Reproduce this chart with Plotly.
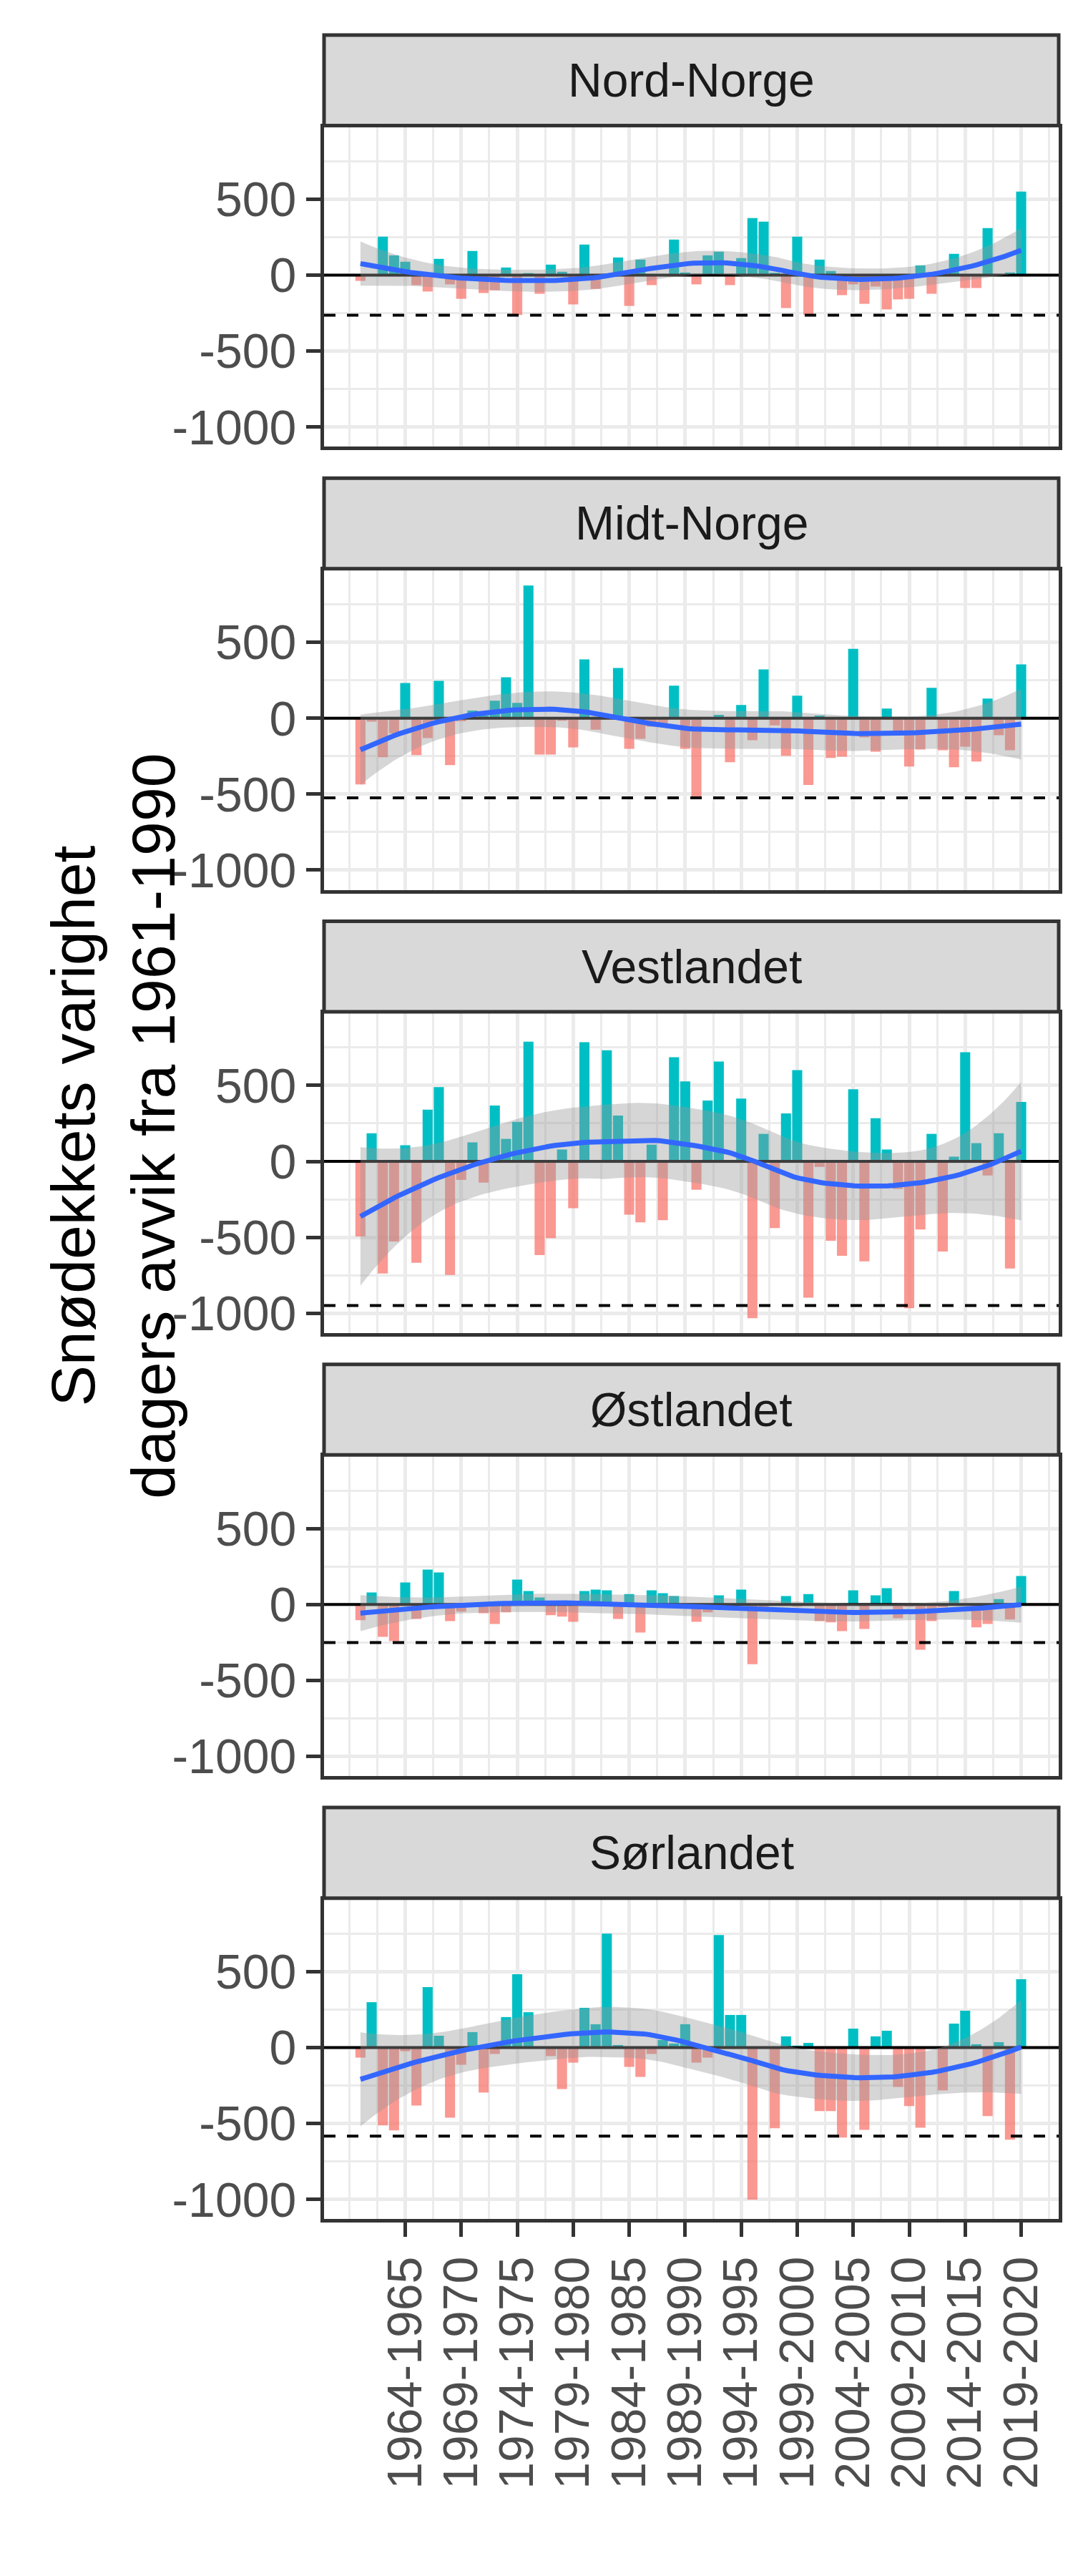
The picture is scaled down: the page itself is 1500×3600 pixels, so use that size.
import numpy as np
import plotly.graph_objects as go

# hydrological years 1960-1961 ... 2019-2020
seasons = [f"{y}-{y + 1}" for y in range(1960, 2020)]
tick_labels = [s for s in seasons if s.endswith(("5", "0")) and seasons.index(s) >= 4]
y_ticks = [-1000, -500, 0, 500]

regions = ["Nord-Norge", "Midt-Norge", "Vestlandet", "Østlandet", "Sørlandet"]

nord_norge = [-38, 0, 253, 130, 88, -66, -108, 107, -61, -156, 159, -118, -100, 50, -263, 13, -123, 69, 22, -193,
              201, -91, 5, 116, -203, 102, -66, 0, 234, 17, -61, 130, 154, -66, 112, 376, 352, 15, -217, 253,
              -263, 102, 27, -132, -61, -189, -75, -226, -160, -156, 64, -123, 0, 140, -85, -85, 310, 0, 17, 550]
midt_norge = [-436, -22, -257, -100, 232, -243, -131, 246, -309, -20, 50, 17, 115, 270, 101, 874, -239, -239, -16, -192,
              387, -75, 0, 331, -201, -136, -56, -37, 214, -201, -516, 0, 22, -290, 87, -145, 321, -47, -248, 148,
              -440, 17, -262, -253, 457, -126, -220, 64, -84, -318, -206, 200, -211, -323, -187, -285, 129, -112, -211, 354]
vestlandet = [-495, 185, -738, -528, 106, -668, 340, 489, -748, -122, 125, -140, 368, 148, 260, 788, -617, -505, 78, -308,
              784, 0, 732, 302, -351, -402, 110, -388, 686, 527, -187, 400, 657, 0, 414, -1033, 181, -439, 316, 601,
              -897, -37, -523, -622, 475, -659, 284, 78, -182, -967, -449, 181, -594, 31, 718, 120, -93, 185, -706, 391]
ostlandet = [-104, 79, -213, -241, 145, -95, 230, 211, -109, -47, 0, -57, -128, -52, 164, 88, 46, -71, -80, -114,
             88, 98, 93, -95, 69, -185, 93, 74, 55, 0, -114, -52, 60, -10, 98, -393, -17, 0, 55, -14,
             69, -109, -118, -175, 93, -161, 60, 107, -90, -14, -298, -109, -17, 88, 0, -151, -128, 36, -99, 188]
sorlandet = [-66, 299, -512, -545, -24, -381, 398, 78, -461, -113, 102, -296, -42, 201, 483, 233, 0, -56, -273, -99,
             262, 154, 751, 17, -127, -193, -42, 50, 27, 154, -99, -66, 741, 215, 215, -1001, 0, -531, 74, 13,
             31, -418, -418, -592, 125, -541, 74, 111, -259, -385, -527, 0, -282, 158, 243, 22, -451, 36, -606, 450]
series = [nord_norge, midt_norge, vestlandet, ostlandet, sorlandet]
dashed_levels = [-264, -524, -949, -251, -583]


def loess(x, y, xs, span=0.75):
    n = len(x)
    q = int(np.floor(n * span))

    def row(x0):
        d = np.abs(x - x0)
        h = np.sort(d)[q - 1]
        w = np.clip(1 - (d / h) ** 3, 0, None) ** 3
        X = np.column_stack([np.ones(n), x - x0, (x - x0) ** 2])
        A = X.T @ (w[:, None] * X)
        return np.linalg.solve(A, X.T * w)[0]

    L = np.array([row(v) for v in x])
    resid = y - L @ y
    M = np.eye(n) - L
    delta1 = np.trace(M.T @ M)
    sigma = np.sqrt(resid @ resid / delta1)
    Ls = np.array([row(v) for v in xs])
    fit = Ls @ y
    se = sigma * np.sqrt((Ls ** 2).sum(axis=1))
    return fit, fit - 2.0 * se, fit + 2.0 * se


W, H = 1500, 3600
X0, X1 = 445, 1472
PITCH = 621
FONT = "Liberation Sans, Arial, sans-serif"
x_idx = np.arange(len(seasons), dtype=float)
x_range = [-3.25, 62.35]
xs = np.linspace(0, len(seasons) - 1, 120)

fig = go.Figure()
layout = dict(width=W, height=H, margin=dict(l=0, r=0, t=0, b=0), plot_bgcolor="white",
              paper_bgcolor="white", showlegend=False, font=dict(family=FONT), bargap=0.1)
shapes, annotations = [], []
major_x = [i for i in range(4, 60, 5)]
minor_x = [-1] + [i - 2.5 for i in range(4, 65, 5)]

for k, (name, vals) in enumerate(zip(regions, series)):
    n = "" if k == 0 else str(k + 1)
    xa, ya = "x" + n, "y" + n
    top = 170 + PITCH * k
    bot = 618 + PITCH * k
    vals = np.array(vals, dtype=float)
    colors = ["#00BFC4" if v > 0 else "rgba(248,118,109,0.75)" for v in vals]
    fig.add_trace(go.Bar(x=x_idx, y=vals, marker=dict(color=colors, line=dict(width=0)),
                         width=0.9, xaxis=xa, yaxis=ya))
    fig.add_trace(go.Scatter(x=x_range, y=[0, 0], mode="lines", line=dict(color="black", width=4),
                             xaxis=xa, yaxis=ya))
    fig.add_trace(go.Scatter(x=x_range, y=[dashed_levels[k]] * 2, mode="lines",
                             line=dict(color="black", width=4, dash="16px,16px"), xaxis=xa, yaxis=ya))
    fit, lo, hi = loess(x_idx, vals, xs)
    fig.add_trace(go.Scatter(x=np.concatenate([xs, xs[::-1]]), y=np.concatenate([hi, lo[::-1]]),
                             fill="toself", fillcolor="rgba(153,153,153,0.4)", line=dict(width=0),
                             mode="lines", xaxis=xa, yaxis=ya))
    fig.add_trace(go.Scatter(x=xs, y=fit, mode="lines", line=dict(color="#3366FF", width=7),
                             xaxis=xa, yaxis=ya))

    last = k == len(regions) - 1
    layout["xaxis" + n] = dict(
        domain=[X0 / W, X1 / W], anchor=ya, range=x_range,
        tickvals=major_x, ticktext=tick_labels if last else [""] * len(major_x),
        showticklabels=last, tickangle=-90, ticks="outside" if last else "", ticklen=20, tickwidth=5,
        tickcolor="#333333", tickfont=dict(size=68, color="#4D4D4D", family=FONT),
        showgrid=True, gridcolor="#EBEBEB", gridwidth=5,
        minor=dict(tickvals=minor_x, showgrid=True, gridcolor="#EBEBEB", gridwidth=3),
        showline=True, linecolor="#333333", linewidth=5, mirror=True, zeroline=False)
    layout["yaxis" + n] = dict(
        domain=[1 - bot / H, 1 - top / H], anchor=xa, range=[-1130, 975],
        tickvals=y_ticks, ticktext=[str(t) for t in y_ticks],
        ticks="outside", ticklen=20, tickwidth=5, tickcolor="#333333",
        tickfont=dict(size=68, color="#4D4D4D", family=FONT),
        showgrid=True, gridcolor="#EBEBEB", gridwidth=5,
        minor=dict(tickvals=[-750, -250, 250, 750], showgrid=True, gridcolor="#EBEBEB", gridwidth=3),
        showline=True, linecolor="#333333", linewidth=5, mirror=True, zeroline=False)

    s_top, s_bot = 41 + PITCH * k, 168 + PITCH * k
    shapes.append(dict(type="rect", xref="paper", yref="paper", x0=X0 / W, x1=X1 / W,
                       y0=1 - s_bot / H, y1=1 - s_top / H, fillcolor="#D9D9D9",
                       line=dict(color="#333333", width=5)))
    annotations.append(dict(text=name, xref="paper", yref="paper", x=(X0 + X1) / 2 / W,
                            y=1 - (s_top + s_bot) / 2 / H, xanchor="center", yanchor="middle",
                            showarrow=False, font=dict(size=66, color="#1A1A1A", family=FONT)))

annotations.append(dict(text="Snødekkets varighet<br>dagers avvik fra 1961-1990", xref="paper", yref="paper",
                        x=150 / W, y=1 - 1570 / H, xanchor="center", yanchor="middle", textangle=-90,
                        showarrow=False, font=dict(size=86, color="black", family=FONT)))
layout["shapes"] = shapes
layout["annotations"] = annotations
fig.update_layout(**layout)
fig.write_html("out.html")
